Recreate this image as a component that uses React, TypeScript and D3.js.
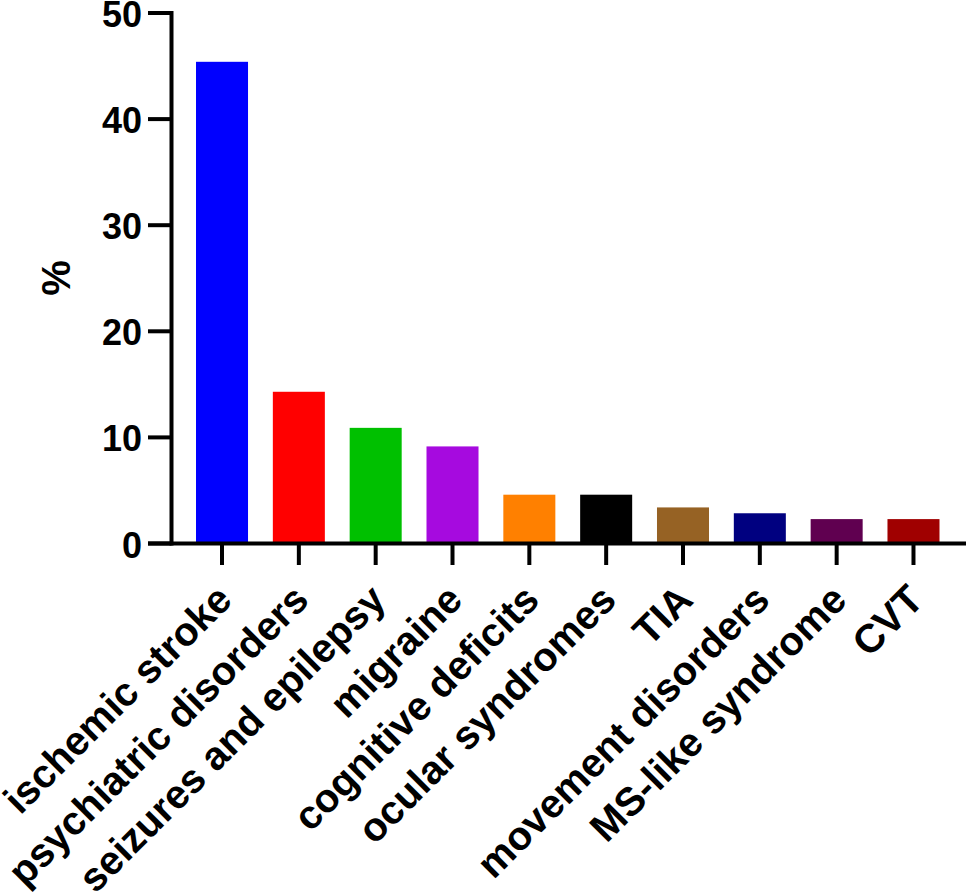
import React from "react";
import * as d3 from "d3";

const categories = [
  "ischemic stroke",
  "psychiatric disorders",
  "seizures and epilepsy",
  "migraine",
  "cognitive deficits",
  "ocular syndromes",
  "TIA",
  "movement disorders",
  "MS-like syndrome",
  "CVT",
];
const values = [45.4, 14.3, 10.9, 9.15, 4.6, 4.6, 3.4, 2.85, 2.3, 2.3];
const colors = [
  "#0000ff",
  "#ff0000",
  "#00c000",
  "#a60adf",
  "#ff8000",
  "#000000",
  "#966224",
  "#000080",
  "#600050",
  "#a00000",
];
const yTicks = [0, 10, 20, 30, 40, 50];
const yLabel = "%";

const W = 967;
const H = 894;
const FONT = "Arial, 'Liberation Sans', Helvetica, sans-serif";

export default function App() {
  const axisX = 171.5;
  const y = d3.scaleLinear().domain([0, 50]).range([543.5, 13]);
  const x = d3
    .scaleBand<string>()
    .domain(categories)
    .range([183.6, 951.9])
    .paddingInner(0.323)
    .paddingOuter(0.1615);
  const y0 = y(0);

  return (
    <svg
      width={W}
      height={H}
      style={{ position: "absolute", left: 0, top: 0, background: "#fff" }}
      fontFamily={FONT}
    >
      <rect x={0} y={0} width={W} height={H} fill="#fff" />
      {categories.map((c, i) => (
        <rect
          key={c}
          x={x(c)}
          y={y(values[i])}
          width={x.bandwidth()}
          height={y0 - y(values[i])}
          fill={colors[i]}
        />
      ))}
      {/* y axis */}
      <line x1={axisX} x2={axisX} y1={y0 + 2} y2={y(50) - 2} stroke="#000" strokeWidth={4} />
      {yTicks.map((t) => (
        <g key={t}>
          <line x1={148} x2={axisX} y1={y(t)} y2={y(t)} stroke="#000" strokeWidth={4} />
          <text
            x={142}
            y={y(t) + 14}
            textAnchor="end"
            fontSize={36}
            fontWeight="bold"
          >
            {t}
          </text>
        </g>
      ))}
      {/* x axis */}
      <line x1={148} x2={966} y1={y0} y2={y0} stroke="#000" strokeWidth={4} />
      {categories.map((c) => {
        const cx = (x(c) as number) + x.bandwidth() / 2;
        return (
          <g key={c}>
            <line x1={cx} x2={cx} y1={y0} y2={565} stroke="#000" strokeWidth={4} />
            <text
              transform={`translate(${cx + 12},${602}) rotate(-45)`}
              textAnchor="end"
              fontSize={40}
              fontWeight="bold"
            >
              {c}
            </text>
          </g>
        );
      })}
      <text
        transform={`translate(70,278) rotate(-90)`}
        textAnchor="middle"
        fontSize={40}
        fontWeight="bold"
      >
        {yLabel}
      </text>
    </svg>
  );
}
